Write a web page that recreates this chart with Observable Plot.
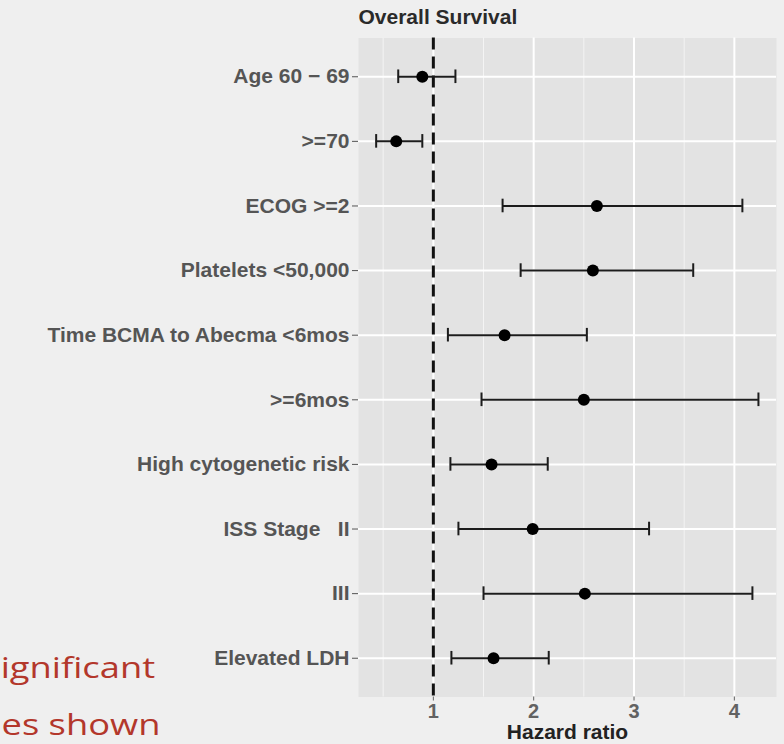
<!DOCTYPE html>
<html>
<head>
<meta charset="utf-8">
<script src="https://cdn.jsdelivr.net/npm/d3@7"></script>
<script src="https://cdn.jsdelivr.net/npm/@observablehq/plot@0.6"></script>
<style>
  html, body { margin: 0; padding: 0; background: #efefef; overflow: hidden; }
  #wrap { position: relative; width: 784px; height: 744px; overflow: hidden; }
  #wrap svg text { white-space: pre; }
  .note {
    position: absolute; font-family: "Open Sans", "Liberation Sans", sans-serif;
    font-size: 30px; line-height: 57px; color: #b3372b; white-space: nowrap;
    transform: scaleX(1.21); transform-origin: right center;
  }
</style>
</head>
<body>
<div id="wrap">
  <div class="note" style="right: 629px; top: 638px;">Significant</div>
  <div class="note" style="right: 624px; top: 695px;">variables shown</div>
</div>
<script>
// Hazard ratios with 95% confidence intervals, overall survival
const labels = [
  "Age 60 − 69", ">=70", "ECOG >=2", "Platelets <50,000",
  "Time BCMA to Abecma <6mos", ">=6mos", "High cytogenetic risk",
  "ISS Stage   II", "III", "Elevated LDH"
];
const hr = [0.89, 0.63, 2.63, 2.59, 1.71, 2.50, 1.58, 1.99, 2.51, 1.60];
const lo = [0.65, 0.43, 1.69, 1.87, 1.145, 1.48, 1.17, 1.25, 1.50, 1.18];
const hi = [1.22, 0.89, 4.08, 3.59, 2.53, 4.24, 2.14, 3.15, 4.18, 2.15];

const majorTicks = [1, 2, 3, 4];
const minorTicks = [0.5, 1.5, 2.5, 3.5];
const reference = [1];

const rows = labels.map((label, i) => ({label, hr: hr[i], lo: lo[i], hi: hi[i]}));

const font = "Liberation Sans, Arial, Helvetica, sans-serif";

const chart = Plot.plot({
  width: 784,
  height: 744,
  marginTop: 37.5,
  marginBottom: 47.5,
  marginLeft: 358,
  marginRight: 8,
  style: {background: "transparent", fontFamily: font},
  x: {domain: [0.254, 4.42]},
  y: {type: "band", domain: labels, paddingInner: 0, paddingOuter: 0.1, round: false},
  marks: [
    Plot.frame({fill: "#e3e3e3", stroke: "none"}),
    Plot.ruleX(minorTicks, {stroke: "#f4f4f4", strokeWidth: 1}),
    Plot.ruleX(majorTicks, {stroke: "#ffffff", strokeWidth: 2}),
    Plot.gridY({stroke: "#ffffff", strokeOpacity: 1, strokeWidth: 2}),
    Plot.ruleX(reference, {stroke: "#111", strokeWidth: 3, strokeDasharray: "12,7"}),
    Plot.ruleY(rows, {y: "label", x1: "lo", x2: "hi", stroke: "#1c1c1c", strokeWidth: 2}),
    Plot.tickX(rows, {x: "lo", y: "label", stroke: "#1c1c1c", strokeWidth: 2, insetTop: 25.5, insetBottom: 25.5}),
    Plot.tickX(rows, {x: "hi", y: "label", stroke: "#1c1c1c", strokeWidth: 2, insetTop: 25.5, insetBottom: 25.5}),
    Plot.dot(rows, {x: "hr", y: "label", r: 6, fill: "#000", stroke: "none"}),
    Plot.axisY({
      tickSize: 6, tickPadding: 3, fontSize: 21, fontWeight: "bold",
      fill: "#555", stroke: "#555", label: null
    }),
    Plot.axisX(majorTicks, {
      tickSize: 4, tickPadding: 3, fontSize: 20, fontWeight: "bold",
      fill: "#626262", stroke: "#626262", label: null
    }),
    Plot.text(["Hazard ratio"], {
      frameAnchor: "bottom", dy: 35, fontSize: 21, fontWeight: "bold",
      fill: "#222", lineAnchor: "middle"
    }),
    Plot.text(["Overall Survival"], {
      frameAnchor: "top-left", textAnchor: "start", dy: -20.5, fontSize: 21,
      fontWeight: "bold", fill: "#2a2a2a", lineAnchor: "middle"
    })
  ]
});

document.getElementById("wrap").prepend(chart);
</script>
</body>
</html>
